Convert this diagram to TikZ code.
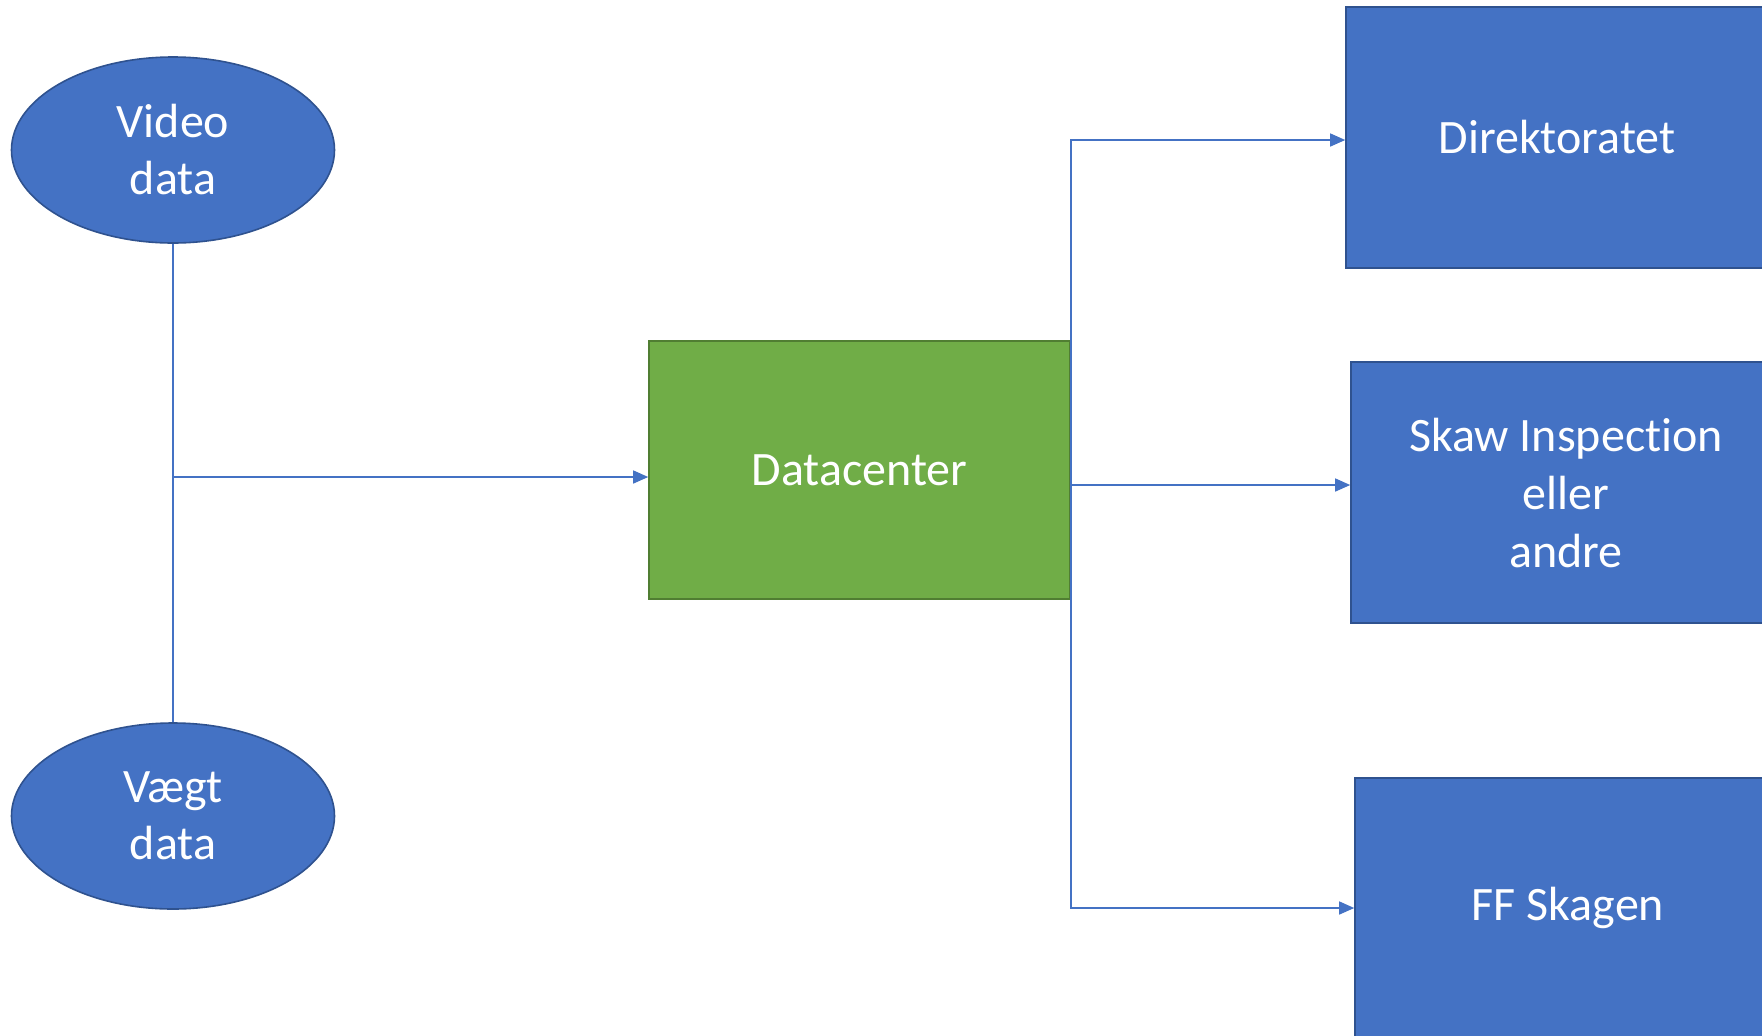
\documentclass[tikz,border=0pt]{standalone}
\usepackage{fontspec}
\setmainfont[Ligatures=NoCommon]{Carlito}
\usetikzlibrary{shapes.geometric,arrows.meta}
\definecolor{boxblue}{HTML}{4472C4}
\definecolor{boxblueedge}{HTML}{2F528F}
\definecolor{boxgreen}{HTML}{70AD47}
\definecolor{boxgreenedge}{HTML}{507E32}
\tikzset{
  bluebox/.style={rectangle, fill=boxblue, draw=boxblueedge, line width=0.8pt, text=white, align=center, inner sep=0pt,
    font=\fontsize{24}{29}\selectfont},
  greenbox/.style={rectangle, fill=boxgreen, draw=boxgreenedge, line width=0.8pt, text=white, align=center, inner sep=0pt,
    font=\fontsize{24}{29}\selectfont},
  blueoval/.style={ellipse, fill=boxblue, draw=boxblueedge, line width=0.8pt, text=white, align=center, inner sep=0pt,
    minimum width=161.5pt, minimum height=93pt, font=\fontsize{24}{28.5}\selectfont},
  conn/.style={draw=boxblue, line width=0.7pt},
  arr/.style={conn, -{Triangle[length=7.5pt,width=6.5pt]}},
}
\begin{document}
\begin{tikzpicture}[x=0.5pt,y=-0.5pt]
\useasboundingbox (0,0) rectangle (1762,1035);
\fill[white] (0,0) rectangle (1762,1035);

\node[blueoval] (video) at (173,150) {Video\\data};
\node[blueoval] (vaegt) at (173,816) {Vægt\\data};

\node[greenbox, minimum width=210.5pt, minimum height=129pt] (dc) at (859.5,470) {Datacenter};

\node[bluebox, minimum width=211pt, minimum height=130.5pt] (dir) at (1557,137.5) {Direktoratet};
\node[bluebox, minimum width=215pt, minimum height=130.5pt] (skaw) at (1566,492.5) {Skaw Inspection\\eller\\andre};
\node[bluebox, minimum width=213pt, minimum height=130pt] (ff) at (1568,908) {FF Skagen};

\coordinate (j) at (173,477);
\draw[conn] (video.south) -- (vaegt.north);
\draw[arr] (j) -- (j -| dc.west);

\draw[arr] (dc.east) |- ([yshift=-1.25pt]dir.west);
\draw[arr] (dc.east) |- ([yshift=3.75pt]skaw.west);
\draw[arr] (dc.east) |- (ff.west);
\end{tikzpicture}
\end{document}
